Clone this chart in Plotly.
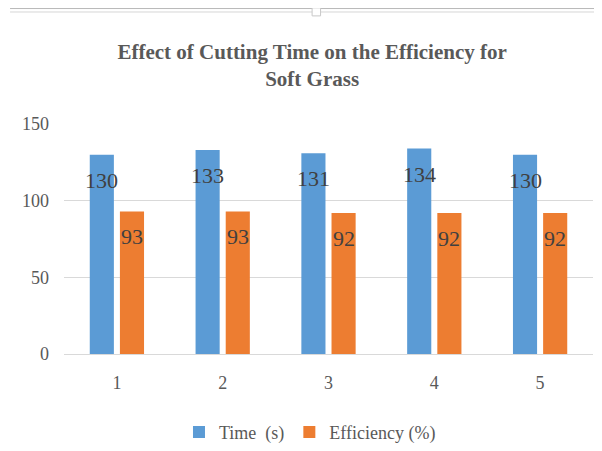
import plotly.graph_objects as go

categories = ["1", "2", "3", "4", "5"]
time_s = [130, 133, 131, 134, 130]
efficiency = [93, 93, 92, 92, 92]
series_names = ["Time  (s)", "Efficiency (%)"]
y_ticks = [0, 50, 100, 150]

serif = "Liberation Serif, serif"
gray = "#595959"
label_color = "#404040"

fig = go.Figure()
series = [(series_names[0], time_s, "#5B9BD5", -15),
          (series_names[1], efficiency, "#ED7D31", 15)]
annotations = []
for name, vals, color, shift in series:
    fig.add_trace(go.Bar(
        x=categories, y=vals, name=name,
        marker=dict(color=color, line=dict(width=0)),
    ))
    # value labels just inside the top of each bar (x = category index)
    for i, v in enumerate(vals):
        annotations.append(dict(
            x=i, y=v, xref="x", yref="y", text=str(v), showarrow=False,
            xanchor="center", yanchor="top", xshift=shift, yshift=-11,
            font=dict(family=serif, size=22, color=label_color),
        ))

# figure drawn 594x443 because the page body adds an 8px margin
fig.update_layout(
    width=594, height=443,
    font=dict(family=serif, color=gray),
    paper_bgcolor="white", plot_bgcolor="white",
    margin=dict(l=56, r=9, t=116, b=97, autoexpand=False),
    barmode="group", bargap=0.43, bargroupgap=0.2,
    title=dict(
        text="Effect of Cutting Time on the Efficiency for<br>Soft Grass",
        x=0.512, xanchor="center", y=0.886, yanchor="middle",
        font=dict(family=serif, size=21, color=gray, weight="bold"),
    ),
    showlegend=True,
    legend=dict(orientation="h", x=0.465, xanchor="center", y=-0.34, yanchor="middle",
                font=dict(family="Liberation Serif", size=18, color=gray),
                itemwidth=30, tracegroupgap=0),
    xaxis=dict(type="category", categoryorder="array", categoryarray=categories,
               range=[-0.5, len(categories) - 0.5],
               showgrid=False, showline=True, linecolor="#D9D9D9",
               linewidth=1, ticks="", tickfont=dict(family=serif, size=18, color=gray),
               ticklabelstandoff=12),
    yaxis=dict(range=[0, 150], tickvals=y_ticks, showgrid=True, gridcolor="#D9D9D9",
               gridwidth=1, zeroline=False, showline=False, ticks="",
               tickfont=dict(family=serif, size=18, color=gray),
               ticklabelstandoff=14),
    annotations=annotations,
    shapes=[
        dict(type="line", xref="paper", yref="paper", x0=-0.102, x1=1.02,
             y0=1.502, y1=1.502, line=dict(color="#B8B8B8", width=1)),
        dict(type="line", xref="paper", yref="paper", x0=-0.102, x1=1.02,
             y0=1.487, y1=1.487, line=dict(color="#D6D6D6", width=1)),
        dict(type="rect", xref="paper", yref="paper", x0=0.469, x1=0.485,
             y0=1.470, y1=1.505, fillcolor="white", line=dict(color="#C8C8C8", width=1)),
    ],
)

fig.write_html("out.html")
